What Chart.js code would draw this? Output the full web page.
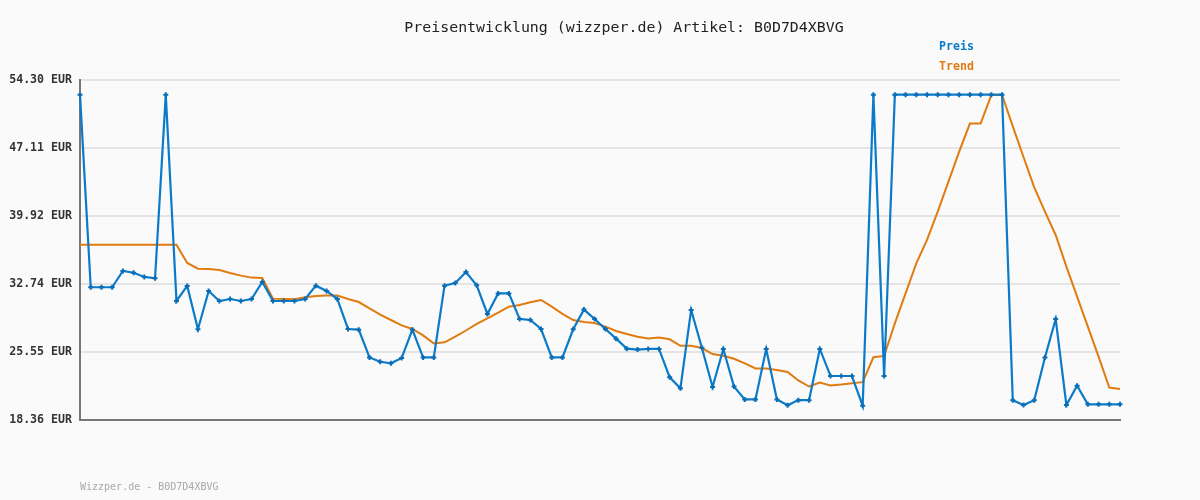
<!DOCTYPE html>
<html>
<head>
  <title>Preisentwicklung B0D7D4XBVG</title>
  <script src="https://cdn.jsdelivr.net/npm/chart.js"></script>
  <style>
    body {
      margin: 0;
      background-color: #fafafa;
    }
    canvas {
      display: block;
    }
  </style>
</head>
<body>
  <canvas id="priceChart" width="1200" height="500"></canvas>
  <script>
    var titleText = 'Preisentwicklung (wizzper.de) Artikel: B0D7D4XBVG';
    var footerText = 'Wizzper.de - B0D7D4XBVG';
    var yTicks = [18.36, 25.55, 32.74, 39.92, 47.11, 54.30];

    // Preis je Messpunkt
    var preisData = [
      52.75, 32.39, 32.39, 32.39, 34.11, 33.93, 33.48, 33.34, 52.75, 30.94,
      32.53, 27.95, 32.00, 30.94, 31.15, 30.94, 31.15, 32.95, 30.94, 30.94,
      30.94, 31.15, 32.56, 32.00, 31.15, 27.98, 27.91, 24.97, 24.52, 24.35,
      24.91, 27.91, 24.97, 24.97, 32.56, 32.84, 34.00, 32.60, 29.57, 31.74,
      31.74, 29.04, 28.93, 27.98, 24.97, 24.97, 27.95, 30.03, 29.04, 27.98,
      26.96, 25.90, 25.80, 25.87, 25.87, 22.87, 21.71, 30.00, 26.00, 21.85,
      25.87, 21.89, 20.53, 20.53, 25.87, 20.53, 19.91, 20.46, 20.46, 25.87,
      23.01, 23.01, 23.01, 19.87, 52.75, 23.01, 52.75, 52.75, 52.75, 52.75,
      52.75, 52.75, 52.75, 52.75, 52.75, 52.75, 52.75, 20.44, 19.95, 20.44,
      24.97, 29.04, 19.95, 21.99, 20.02, 20.02, 20.02, 20.02
    ];

    // Trend (gleitender Durchschnitt)
    var trendData = [
      36.89, 36.89, 36.89, 36.89, 36.89, 36.89, 36.89, 36.89, 36.89, 36.89,
      34.96, 34.36, 34.33, 34.22, 33.90, 33.62, 33.41, 33.37, 31.19, 31.15,
      31.12, 31.33, 31.47, 31.51, 31.51, 31.15, 30.83, 30.16, 29.50, 28.93,
      28.36, 27.98, 27.31, 26.46, 26.57, 27.17, 27.82, 28.52, 29.10, 29.70,
      30.34, 30.52, 30.80, 31.05, 30.34, 29.57, 28.93, 28.72, 28.61, 28.23,
      27.77, 27.45, 27.17, 26.98, 27.07, 26.89, 26.21, 26.21, 25.97, 25.33,
      25.15, 24.83, 24.34, 23.81, 23.81, 23.64, 23.43, 22.54, 21.90, 22.32,
      22.00, 22.11, 22.25, 22.36, 24.99, 25.13, 28.57, 31.75, 34.92, 37.39,
      40.38, 43.55, 46.72, 49.69, 49.69, 52.71, 52.71, 49.40, 46.16, 42.96,
      40.38, 37.92, 34.57, 31.40, 28.23, 25.06, 21.79, 21.64
    ];

    var labels = preisData.map((_, i) => i + 1);

    var preisColor = '#0b7bc9';
    var trendColor = '#e07b10';
    var monoFont = "'DejaVu Sans Mono', 'Liberation Mono', monospace";

    // Titel, Legende und Fusszeile an festen Stellen zeichnen
    var textPlugin = {
      id: 'texts',
      afterDraw: function(chart) {
        var ctx = chart.ctx;
        ctx.save();
        ctx.textBaseline = 'middle';

        ctx.font = '14.9px ' + monoFont;
        ctx.fillStyle = '#222';
        ctx.textAlign = 'center';
        ctx.fillText(titleText, 624, 28);

        ctx.font = 'bold 11.6px ' + monoFont;
        ctx.textAlign = 'left';
        chart.data.datasets.forEach(function(ds, i) {
          ctx.fillStyle = ds.borderColor;
          ctx.fillText(ds.label, 939, 47 + i * 20);
        });

        ctx.font = '10px ' + monoFont;
        ctx.fillStyle = '#a8a8a8';
        ctx.fillText(footerText, 80, 487);
        ctx.restore();
      }
    };

    var ctx = document.getElementById('priceChart').getContext('2d');
    var priceChart = new Chart(ctx, {
      type: 'line',
      data: {
        labels: labels,
        datasets: [{
          label: 'Preis',
          data: preisData,
          borderColor: preisColor,
          borderWidth: 2.2,
          pointStyle: 'cross',
          pointRadius: 2.5,
          pointBorderWidth: 2,
          pointBorderColor: '#0a6db5',
          pointBackgroundColor: '#0a6db5',
          tension: 0
        }, {
          label: 'Trend',
          data: trendData,
          borderColor: trendColor,
          borderWidth: 2,
          pointRadius: 0,
          tension: 0
        }]
      },
      options: {
        responsive: false,
        animation: false,
        layout: {
          padding: { left: 0, right: 80, top: 80, bottom: 80 }
        },
        plugins: {
          legend: { display: false },
          title: { display: false },
          tooltip: { enabled: false }
        },
        scales: {
          x: {
            offset: false,
            grid: { display: false },
            ticks: { display: false },
            border: { display: true, color: '#777', width: 2 },
            afterFit: function(scale) { scale.height = 0; }
          },
          y: {
            min: 18.36,
            max: 54.30,
            afterBuildTicks: function(scale) {
              scale.ticks = yTicks.map(v => ({ value: v }));
            },
            afterFit: function(scale) { scale.width = 80; },
            grid: { color: '#e4e4e4', lineWidth: 2, drawTicks: false },
            border: { display: true, color: '#777', width: 2 },
            ticks: {
              padding: 8,
              color: '#333',
              font: { family: monoFont, size: 11.6, weight: 'bold' },
              callback: function(value) { return value.toFixed(2) + ' EUR'; }
            }
          }
        }
      },
      plugins: [textPlugin]
    });
  </script>
</body>
</html>
